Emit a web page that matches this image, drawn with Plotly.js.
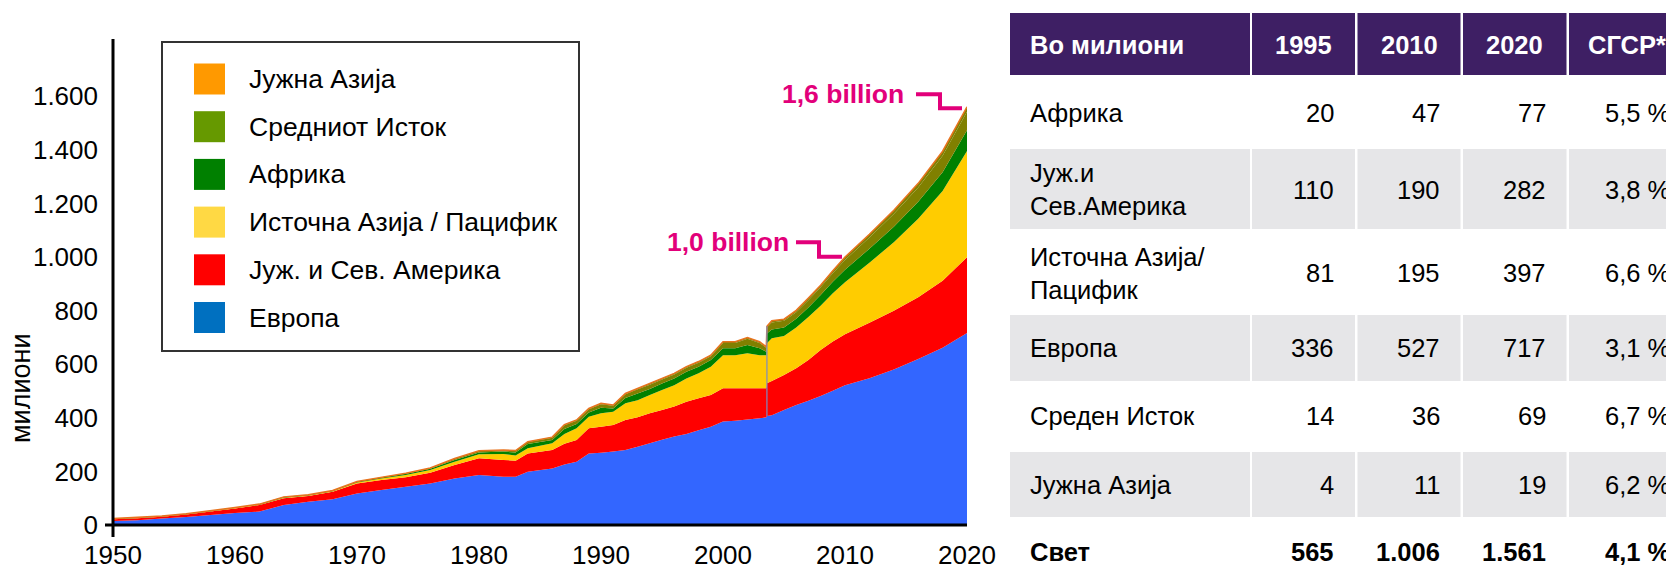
<!DOCTYPE html>
<html>
<head>
<meta charset="utf-8">
<script src="https://cdn.plot.ly/plotly-3.0.1.min.js"></script>
<style>html,body{margin:0;padding:0;background:#fff;} #chart{width:1666px;height:566px;}</style>
</head>
<body>
<div id="chart"></div>
<script>
// ---------------- DATA ----------------
const years = [1950,1952,1954,1956,1958,1960,1962,1964,1966,1968,1970,1972,1974,1976,1978,1980,1982,1983,1984,1986,
  1987,1988,1989,1990,1991,1992,1993,1994,1995,1996,1997,1998,1999,2000,2001,2002,2003,2003.55,2003.6,
  2004,2005,2006,2007,2008,2009,2010,2012,2014,2016,2018,2020];

const europe = [15,18,24,30,37,45,50,75,87,96,118,131,143,155,174,187,180,180,199,211,
  226,236,267,270,274,280,292,305,318,330,340,354,367,386,389,394,398,402,407,
  410,429,448,464,481,501,522,548,580,620,662,717];

const americas = [6,7,7,9,13,17,25,25,21,28,37,37,35,40,50,62,63,60,68,69,
  77,81,94,97,99,112,110,112,111,112,120,119,118,124,121,116,112,108,122,
  127,131,137,152,172,184,190,207,220,230,250,282];

const eastAsia = [1,1,1,1,1,1,1,2,2,2,4,6,9,10,12,15,22,19,19,25,
  37,44,43,50,50,62,64,68,75,80,87,93,106,124,124,131,124,124,149,
  160,145,152,160,165,180,194,224,255,293,335,397];

const africa = [1,1,1,1,1,1,1,2,2,2,2,3,4,5,7,7,9,12,16,12,
  18,16,16,21,12,20,25,23,24,25,25,25,25,26,26,31,26,13,37,
  33,32,33,36,40,43,47,52,58,63,70,77];

const middleEast = [1,1,1,1,1,1,1,1,1,1,1,1,2,3,4,5,5,6,8,9,
  14,12,12,13,10,14,16,15,15,15,15,15,14,19,19,23,19,15,22,
  26,25,24,27,29,32,36,42,48,54,61,69];

const southAsia = [0,0,0,0,0,0,0,0,0,0,0,0,0,0,1,1,1,1,1,2,
  3,3,3,3,3,3,3,3,4,4,4,4,4,5,5,5,5,3,5,
  6,6,7,8,8,9,11,12,14,15,17,19];

const regionNames = ['Европа','Јуж. и Сев. Америка','Источна Азија / Пацифик','Африка','Средниот Исток','Јужна Азија'];
const yTicks = [0,200,400,600,800,1000,1200,1400,1600];
const xTicks = [1950,1960,1970,1980,1990,2000,2010,2020];

// table
const tblHeader = ['Во милиони','1995','2010','2020','СГСР*'];
const tblRegions = ['Африка','Јуж.и<br>Сев.Америка','Источна Азија/<br>Пацифик','Европа','Среден Исток','Јужна Азија','Свет'];
const tbl1995 = [20,110,81,336,14,4,565];
const tbl2010 = [47,190,195,527,36,11,1006];
const tbl2020 = [77,282,397,717,69,19,1561];
const tblCagr = [5.5,3.8,6.6,3.1,6.7,6.2,4.1];

const noteTotal2020 = '1,6 billion';
const noteTotal2010 = '1,0 billion';

// ---------------- STYLE ----------------
const chartColors = ['#3366FF','#FF0000','#FFCC00','#008000','#808000','#808000'];
const legendColors = ['#0070C0','#FF0000','#FFD944','#008000','#669900','#FF9900'];
const FONT = 'Liberation Sans, Arial, sans-serif';
const MAGENTA = '#E2007A';
const W = 1666, H = 566;
const X0 = 113, X1 = 967, Y0 = 525, YT = 39;
const pxPerUnit = (525 - 96.3) / 1600;
const P = x => x / W;
const Q = y => 1 - y / H;

const series = [europe, americas, eastAsia, africa, middleEast, southAsia];
const traces = series.map((s, i) => ({
  type: 'scatter', x: years, y: s, stackgroup: 'one',
  mode: i === 5 ? 'lines' : 'none',
  line: { width: i === 5 ? 1.5 : 0, color: '#E8731E', shape: 'linear' },
  fillcolor: chartColors[i], name: regionNames[i], showlegend: false, hoverinfo: 'skip'
}));
// seam line at the data break
const k = years.indexOf(2003.6);
const tot = years.map((_, i) => series.reduce((a, s) => a + s[i], 0));
traces.push({ type: 'scatter', x: [years[k], years[k]], y: [europe[k], tot[k]], mode: 'lines',
  line: { color: '#7D8CC0', width: 1.2 }, showlegend: false, hoverinfo: 'skip' });

const shapes = [];
const annotations = [];

// axis lines
shapes.push({ type: 'line', xref: 'paper', yref: 'paper', x0: P(105), x1: P(X1), y0: Q(Y0), y1: Q(Y0), line: { color: '#000', width: 3 }, layer: 'above' });
shapes.push({ type: 'line', xref: 'paper', yref: 'paper', x0: P(X0), x1: P(X0), y0: Q(YT), y1: Q(537), line: { color: '#000', width: 3 }, layer: 'above' });

// y-axis title
annotations.push({ xref: 'paper', yref: 'paper', x: P(21), y: Q(388), text: 'милиони', textangle: -90, showarrow: false,
  xanchor: 'center', yanchor: 'middle', font: { family: FONT, size: 27, color: '#000' } });

// legend box
shapes.push({ type: 'rect', xref: 'paper', yref: 'paper', x0: P(162), x1: P(579), y0: Q(42), y1: Q(351),
  line: { color: '#333', width: 2 }, fillcolor: 'rgba(255,255,255,1)', layer: 'above' });
for (let j = 0; j < 6; j++) {
  const i = 5 - j;
  const yc = 79 + j * 47.7;
  shapes.push({ type: 'rect', xref: 'paper', yref: 'paper', x0: P(194), x1: P(225), y0: Q(yc - 15.5), y1: Q(yc + 15.5),
    line: { width: 0 }, fillcolor: legendColors[i], layer: 'above' });
  annotations.push({ xref: 'paper', yref: 'paper', x: P(247), y: Q(yc), text: regionNames[i], showarrow: false,
    xanchor: 'left', yanchor: 'middle', font: { family: FONT, size: 26.5, color: '#000' } });
}

// billion notes
function bracket(xs, ys) {
  let d = '';
  for (let i = 0; i < xs.length; i++) d += (i ? ' L ' : 'M ') + P(xs[i]) + ',' + Q(ys[i]);
  shapes.push({ type: 'path', xref: 'paper', yref: 'paper', path: d, line: { color: MAGENTA, width: 4 }, layer: 'above' });
}
annotations.push({ xref: 'paper', yref: 'paper', x: P(906), y: Q(94), text: '<b>' + noteTotal2020 + '</b>', showarrow: false,
  xanchor: 'right', yanchor: 'middle', font: { family: FONT, size: 26.5, color: MAGENTA } });
bracket([916, 940, 940, 962], [94.3, 94.3, 108.3, 108.3]);
annotations.push({ xref: 'paper', yref: 'paper', x: P(791), y: Q(242.5), text: '<b>' + noteTotal2010 + '</b>', showarrow: false,
  xanchor: 'right', yanchor: 'middle', font: { family: FONT, size: 26.5, color: MAGENTA } });
bracket([796, 819, 819, 842], [242.3, 242.3, 256.7, 256.7]);

// table
const colL = [1010, 1252, 1357.5, 1463, 1569];
const colR = [1250, 1355, 1460.5, 1566.5, 1700];
const rowT = [13, 77, 149, 231, 315, 383, 452, 519];
const rowB = [75, 147, 229, 313, 381, 450, 517, 600];
const rowC = [45, 113, 190, 273, 348, 416, 485, 552];
const fmtInt = v => String(v).replace(/\B(?=(\d{3})+(?!\d))/g, '.');
const fmtPct = v => v.toFixed(1).replace('.', ',') + ' %';
for (let r = 0; r < 8; r++) {
  const fill = r === 0 ? '#3E1F64' : (r % 2 === 0 ? '#E6E6E8' : '#FFFFFF');
  if (fill === '#FFFFFF') continue;
  for (let c = 0; c < 5; c++) {
    shapes.push({ type: 'rect', xref: 'paper', yref: 'paper', x0: P(colL[c]), x1: P(colR[c]), y0: Q(rowT[r]), y1: Q(rowB[r]),
      line: { width: 0 }, fillcolor: fill, layer: 'below' });
  }
}
const hdrFont = { family: FONT, size: 25.5, color: '#FFFFFF' };
annotations.push({ xref: 'paper', yref: 'paper', x: P(1028), y: Q(rowC[0]), text: '<b>' + tblHeader[0] + '</b>', showarrow: false, xanchor: 'left', yanchor: 'middle', font: hdrFont });
for (let c = 1; c < 4; c++) {
  annotations.push({ xref: 'paper', yref: 'paper', x: P((colL[c] + colR[c]) / 2), y: Q(rowC[0]), text: '<b>' + tblHeader[c] + '</b>', showarrow: false, xanchor: 'center', yanchor: 'middle', font: hdrFont });
}
annotations.push({ xref: 'paper', yref: 'paper', x: P(1586), y: Q(rowC[0]), text: '<b>' + tblHeader[4] + '</b>', showarrow: false, xanchor: 'left', yanchor: 'middle', font: hdrFont });

const cols = [tbl1995, tbl2010, tbl2020];
for (let r = 0; r < tblRegions.length; r++) {
  const bold = r === tblRegions.length - 1;
  const f = { family: FONT, size: 25.5, color: '#000' };
  const wrap = t => bold ? '<b>' + t + '</b>' : t;
  const yc = Q(rowC[r + 1]);
  annotations.push({ xref: 'paper', yref: 'paper', x: P(1028), y: yc, text: wrap(tblRegions[r]), showarrow: false, xanchor: 'left', yanchor: 'middle', align: 'left', font: f });
  for (let c = 0; c < 3; c++) {
    annotations.push({ xref: 'paper', yref: 'paper', x: P(colR[c + 1] - 19), y: yc, text: wrap(fmtInt(cols[c][r])), showarrow: false, xanchor: 'right', yanchor: 'middle', font: f });
  }
  annotations.push({ xref: 'paper', yref: 'paper', x: P(1603), y: yc, text: wrap(fmtPct(tblCagr[r])), showarrow: false, xanchor: 'left', yanchor: 'middle', font: f });
}

const layout = {
  width: W, height: H, autosize: false,
  margin: { l: 0, r: 0, t: 0, b: 0, pad: 0 },
  paper_bgcolor: '#FFFFFF', plot_bgcolor: 'rgba(0,0,0,0)',
  separators: ',.',
  showlegend: false,
  xaxis: { domain: [P(X0), P(X1)], range: [1950, 2020], showgrid: false, zeroline: false, showline: false,
    tickvals: xTicks, ticks: '', ticklabelstandoff: 12, tickfont: { family: FONT, size: 26, color: '#000' }, fixedrange: true },
  yaxis: { domain: [Q(Y0), Q(YT)], range: [0, (Y0 - YT) / pxPerUnit], showgrid: false, zeroline: false, showline: false,
    tickvals: yTicks, tickformat: ',', ticks: '', ticklabelstandoff: 14, tickfont: { family: FONT, size: 26, color: '#000' }, fixedrange: true },
  shapes: shapes, annotations: annotations
};

Plotly.newPlot('chart', traces, layout, { displayModeBar: false, staticPlot: true });
</script>
</body>
</html>
